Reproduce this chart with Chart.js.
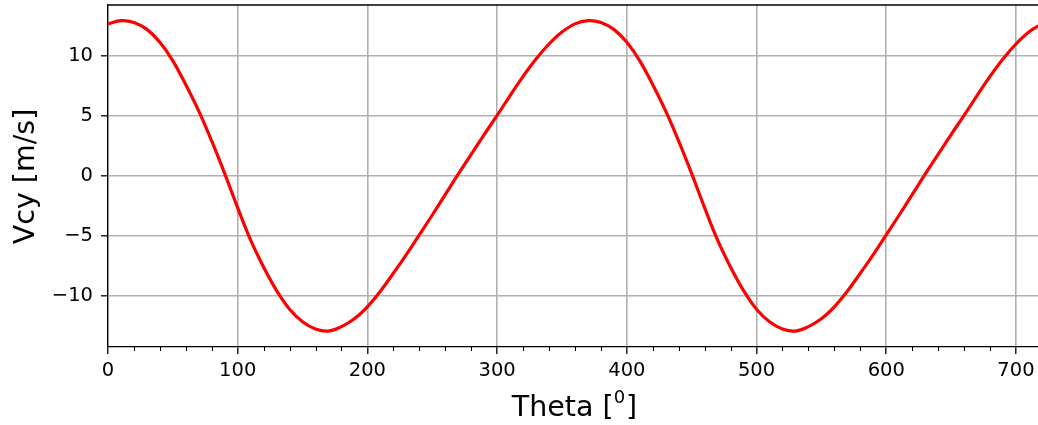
<!DOCTYPE html>
<html>
<head>
<meta charset="utf-8">
<script src="https://cdn.jsdelivr.net/npm/chart.js@4/dist/chart.umd.min.js"></script>
<style>
  body { margin: 0; background: #fff; }
  canvas { display: block; }
</style>
</head>
<body>
<canvas id="vcy-chart" width="1038" height="425"></canvas>
<script>
// crank angle in degrees, read every 10 deg
const theta = [
    0, 10, 20, 30, 40, 50, 60, 70, 80, 90,
    100, 110, 120, 130, 140, 150, 160, 170, 180, 190,
    200, 210, 220, 230, 240, 250, 260, 270, 280, 290,
    300, 310, 320, 330, 340, 350, 360, 370, 380, 390,
    400, 410, 420, 430, 440, 450, 460, 470, 480, 490,
    500, 510, 520, 530, 540, 550, 560, 570, 580, 590,
    600, 610, 620, 630, 640, 650, 660, 670, 680, 690,
    700, 710, 720
];

// Vcy [m/s]
const vcy = [
    12.68, 12.95, 12.80, 12.22, 11.15, 9.60, 7.60, 5.40, 2.90, 0.20,
    -2.65, -5.35, -7.60, -9.55, -11.10, -12.15, -12.75, -12.92, -12.55, -11.90,
    -10.90, -9.60, -8.10, -6.55, -4.90, -3.25, -1.55, 0.15, 1.80, 3.45,
    5.05, 6.70, 8.30, 9.75, 11.00, 12.00, 12.68, 12.95, 12.80, 12.22,
    11.15, 9.60, 7.60, 5.40, 2.90, 0.20, -2.65, -5.35, -7.60, -9.55,
    -11.10, -12.15, -12.75, -12.92, -12.55, -11.90, -10.90, -9.60, -8.10, -6.55,
    -4.90, -3.25, -1.55, 0.15, 1.80, 3.45, 5.05, 6.70, 8.30, 9.75,
    11.00, 12.00, 12.68
];

const xTicks = [0, 100, 200, 300, 400, 500, 600, 700];
const xMinorTicks = [20, 40, 60, 80, 120, 140, 160, 180, 220, 240, 260, 280, 320, 340, 360, 380,
    420, 440, 460, 480, 520, 540, 560, 580, 620, 640, 660, 680, 720];
const yTicks = [-10, -5, 0, 5, 10];

const FONT = 'DejaVu Sans';

// top spine, minor ticks on x, and the two axis titles (x title has a raised 0)
const axesFrame = {
    id: 'axesFrame',
    afterDraw(chart) {
        const ctx = chart.ctx;
        const area = chart.chartArea;
        const xScale = chart.scales.x;
        ctx.save();
        ctx.strokeStyle = '#000';
        ctx.lineWidth = 1.3;
        ctx.beginPath();
        ctx.moveTo(area.left, area.top);
        ctx.lineTo(area.right, area.top);
        ctx.stroke();
        ctx.lineWidth = 1;
        xMinorTicks.forEach(function (v) {
            const px = Math.round(xScale.getPixelForValue(v)) + 0.5;
            if (px > area.right) return;
            ctx.beginPath();
            ctx.moveTo(px, area.bottom);
            ctx.lineTo(px, area.bottom + 4);
            ctx.stroke();
        });

        ctx.fillStyle = '#000';
        ctx.textBaseline = 'alphabetic';

        // x title
        const big = '28.5px "' + FONT + '"';
        const small = '18px "' + FONT + '"';
        ctx.font = big;
        const w1 = ctx.measureText('Theta [').width;
        const w3 = ctx.measureText(']').width;
        ctx.font = small;
        const w2 = ctx.measureText('0').width;
        let x0 = 574 - (w1 + w2 + w3) / 2;
        const base = 416;
        ctx.textAlign = 'left';
        ctx.font = big;
        ctx.fillText('Theta [', x0, base);
        ctx.font = small;
        ctx.fillText('0', x0 + w1, base - 13);
        ctx.font = big;
        ctx.fillText(']', x0 + w1 + w2 + 1, base);

        // y title
        ctx.translate(34, 176.5);
        ctx.rotate(-Math.PI / 2);
        ctx.textAlign = 'center';
        ctx.font = big;
        ctx.fillText('Vcy [m/s]', 0, 0);
        ctx.restore();
    }
};

const ctx = document.getElementById('vcy-chart').getContext('2d');

new Chart(ctx, {
    type: 'line',
    data: {
        datasets: [{
            label: 'Vcy',
            data: theta.map((t, i) => ({ x: t, y: vcy[i] })),
            borderColor: '#ff0000',
            borderWidth: 3.2,
            pointRadius: 0,
            fill: false,
            tension: 0.4
        }]
    },
    options: {
        responsive: false,
        animation: false,
        layout: { padding: { top: 5, right: 0, left: 0, bottom: 0 } },
        plugins: {
            legend: { display: false },
            tooltip: { enabled: false }
        },
        scales: {
            x: {
                type: 'linear',
                min: 0,
                max: 717,
                afterBuildTicks: function (scale) {
                    scale.ticks = xTicks.map(v => ({ value: v }));
                },
                afterFit: function (scale) {
                    scale.height = 78;
                    scale.paddingLeft = 0;
                    scale.paddingRight = 0;
                },
                ticks: {
                    autoSkip: false,
                    maxRotation: 0,
                    color: '#000',
                    padding: 5,
                    font: { family: FONT, size: 19.5 }
                },
                grid: {
                    color: '#b0b0b0',
                    lineWidth: 1.6,
                    drawTicks: true,
                    tickLength: 7,
                    tickColor: '#000',
                    tickWidth: 1.3
                },
                border: { display: true, color: '#000', width: 1.3 },
                title: { display: false }
            },
            y: {
                type: 'linear',
                min: -14.25,
                max: 14.25,
                afterBuildTicks: function (scale) {
                    scale.ticks = yTicks.map(v => ({ value: v }));
                },
                afterFit: function (scale) {
                    scale.width = 108;
                    scale.paddingTop = 0;
                    scale.paddingBottom = 0;
                },
                ticks: {
                    color: '#000',
                    padding: 8,
                    font: { family: FONT, size: 19.5 },
                    callback: function (value) {
                        return value < 0 ? '\u2212' + Math.abs(value) : String(value);
                    }
                },
                grid: {
                    color: '#b0b0b0',
                    lineWidth: 1.6,
                    drawTicks: true,
                    tickLength: 7,
                    tickColor: '#000',
                    tickWidth: 1.3
                },
                border: { display: true, color: '#000', width: 1.3 },
                title: { display: false }
            }
        }
    },
    plugins: [axesFrame]
});
</script>
</body>
</html>
